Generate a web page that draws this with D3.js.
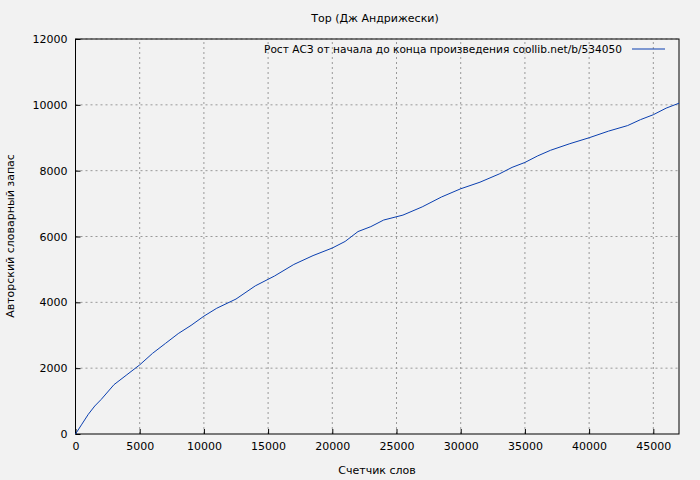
<!DOCTYPE html>
<html><head><meta charset="utf-8">
<script src="https://cdn.jsdelivr.net/npm/d3@7"></script>
<style>body{margin:0;background:#f2f2f2}text{font-family:"DejaVu Sans",sans-serif;font-size:11px;fill:#000}</style>
</head><body><svg width="700" height="480"></svg>
<script>
const words=[0,500,1000,1500,2000,3000,4000,5000,6000,7000,8000,9000,10000,11000,12500,14000,15500,17000,18500,20000,21000,22000,23000,24000,25500,27000,28500,30000,31500,33000,34000,35000,36000,37000,38500,40000,41500,43000,44000,45000,46000,47000];
const vocab=[0,300,600,850,1050,1500,1800,2100,2450,2750,3050,3300,3580,3820,4100,4500,4800,5150,5420,5650,5850,6150,6300,6500,6650,6900,7200,7450,7650,7900,8100,8250,8450,8620,8820,9000,9200,9370,9550,9700,9900,10050];
const xTicks=d3.range(0,50000,5000), yTicks=d3.range(0,14000,2000);
const svg=d3.select("svg");
svg.append("rect").attr("width",700).attr("height",480).attr("fill","#f2f2f2");
const x=d3.scaleLinear().domain([0,47000]).range([75.5,679]);
const y=d3.scaleLinear().domain([0,12000]).range([434,39]);
const g=svg.append("g");
g.selectAll(".gx").data(xTicks.slice(1)).enter().append("line").attr("x1",d=>x(d)).attr("x2",d=>x(d)).attr("y1",y(0)).attr("y2",y(12000)).attr("stroke","#999").attr("stroke-dasharray","2,3");
g.selectAll(".gy").data(yTicks.slice(1)).enter().append("line").attr("y1",d=>y(d)).attr("y2",d=>y(d)).attr("x1",x(0)).attr("x2",x(47000)).attr("stroke","#999").attr("stroke-dasharray","2,3");
svg.append("rect").attr("x",x(0)).attr("y",y(12000)).attr("width",x(47000)-x(0)).attr("height",y(0)-y(12000)).attr("fill","none").attr("stroke","#000");
const xa=svg.append("g").attr("transform",`translate(0,${y(0)})`).call(d3.axisBottom(x).tickValues(xTicks).tickSize(-5).tickPadding(8).tickFormat(d3.format("d")));
const ya=svg.append("g").attr("transform",`translate(${x(0)},0)`).call(d3.axisLeft(y).tickValues(yTicks).tickSize(-5).tickPadding(8).tickFormat(d3.format("d")));
[xa,ya].forEach(a=>{a.select(".domain").remove();a.selectAll("text").style("font-family","DejaVu Sans").style("font-size","11px");});
svg.append("path").datum(words.map((w,i)=>[w,vocab[i]])).attr("fill","none").attr("stroke","#0a3fb0").attr("stroke-width",1)
 .attr("d",d3.line().x(d=>x(d[0])).y(d=>y(d[1])));
svg.append("text").attr("x",375).attr("y",22).attr("text-anchor","middle").text("Тор (Дж Андрижески)");
svg.append("text").attr("x",377).attr("y",474).attr("text-anchor","middle").text("Счетчик слов");
svg.append("text").attr("transform","translate(14,236) rotate(-90)").attr("text-anchor","middle").text("Авторский словарный запас");
svg.append("text").attr("x",622).attr("y",53).attr("text-anchor","end").attr("textLength",358).attr("lengthAdjust","spacingAndGlyphs").text("Рост АСЗ от начала до конца произведения coollib.net/b/534050");
svg.append("line").attr("x1",632).attr("x2",665).attr("y1",49).attr("y2",49).attr("stroke","#0a3fb0");
</script></body></html>
